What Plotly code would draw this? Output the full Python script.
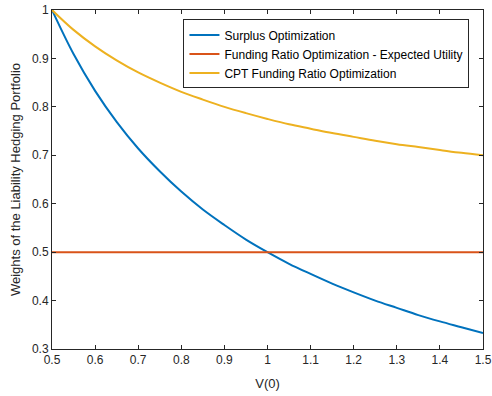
import plotly.graph_objects as go

# Initial funding value V(0)
v0 = [0.5, 0.55, 0.6, 0.65, 0.7, 0.75, 0.8, 0.85, 0.9, 0.95, 1.0,
      1.05, 1.1, 1.15, 1.2, 1.25, 1.3, 1.35, 1.4, 1.45, 1.5]

# Weights of the liability hedging portfolio for each approach
surplus_w = [1.0, 0.909, 0.833, 0.769, 0.714, 0.667, 0.625, 0.588, 0.556, 0.526, 0.5,
             0.476, 0.455, 0.435, 0.417, 0.4, 0.385, 0.370, 0.357, 0.345, 0.333]
funding_eu_w = [0.5] * len(v0)
cpt_w = [1.0, 0.959, 0.925, 0.896, 0.871, 0.85, 0.831, 0.815, 0.8, 0.787, 0.775,
         0.764, 0.755, 0.746, 0.738, 0.73, 0.723, 0.717, 0.711, 0.705, 0.70]

names = ["Surplus Optimization",
         "Funding Ratio Optimization - Expected Utility",
         "CPT Funding Ratio Optimization"]
colors = ["#0072BD", "#D95319", "#EDB120"]

x_ticks = [0.5, 0.6, 0.7, 0.8, 0.9, 1.0, 1.1, 1.2, 1.3, 1.4, 1.5]
x_labels = ["0.5", "0.6", "0.7", "0.8", "0.9", "1", "1.1", "1.2", "1.3", "1.4", "1.5"]
y_ticks = [0.3, 0.4, 0.5, 0.6, 0.7, 0.8, 0.9, 1.0]
y_labels = ["0.3", "0.4", "0.5", "0.6", "0.7", "0.8", "0.9", "1"]

fig = go.Figure()
for ys, name, col in zip([surplus_w, funding_eu_w, cpt_w], names, colors):
    fig.add_trace(go.Scatter(x=v0, y=ys, mode="lines", name=name,
                             line=dict(color=col, width=2, shape="spline")))

axis_common = dict(showline=True, linecolor="#262626", linewidth=1, mirror="ticks",
                   ticks="inside", ticklen=4, tickwidth=1, tickcolor="#262626",
                   showgrid=False, zeroline=False, automargin=False,
                   tickfont=dict(family="Liberation Sans, Arial", size=12, color="#262626"))

fig.update_layout(
    width=492, height=396,
    margin=dict(l=52, r=9, t=10, b=47),
    paper_bgcolor="white", plot_bgcolor="white",
    font=dict(family="Liberation Sans, Arial", color="#262626"),
    xaxis=dict(range=[0.5, 1.5], tickvals=x_ticks, ticktext=x_labels,
               title=dict(text="V(0)", font=dict(size=13), standoff=12), **axis_common),
    yaxis=dict(range=[0.3, 1.0], tickvals=y_ticks, ticktext=y_labels,
               title=dict(text="Weights of the Liability Hedging Portfolio",
                          font=dict(size=13), standoff=8), **axis_common),
    legend=dict(x=0.305, y=0.972, xanchor="left", yanchor="top",
                bgcolor="white", bordercolor="#262626", borderwidth=1,
                font=dict(size=12, color="#000000"), tracegroupgap=0),
    showlegend=True,
)

fig.write_html("out.html")
